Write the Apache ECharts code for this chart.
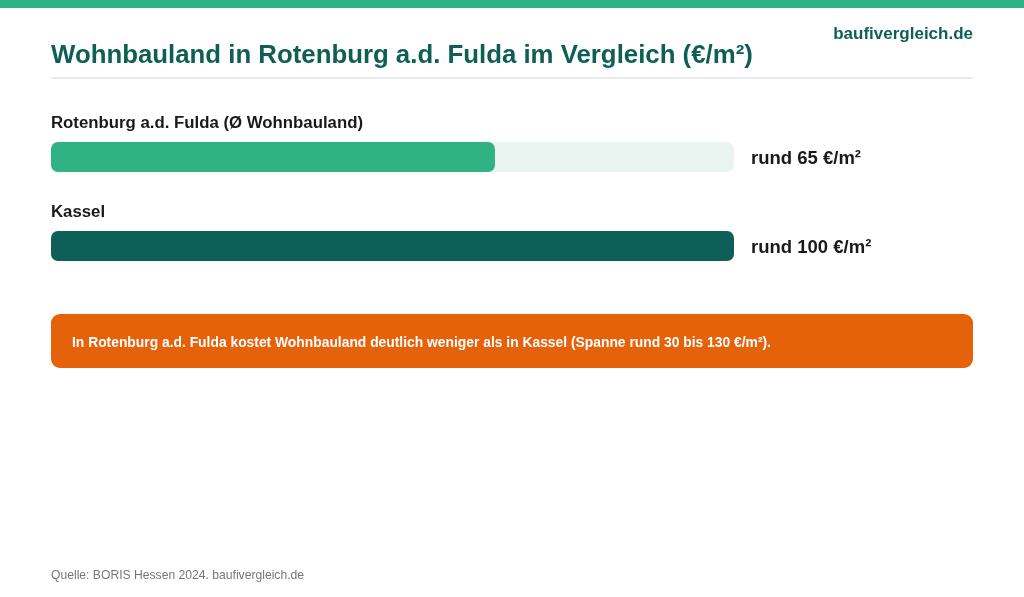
<!DOCTYPE html>
<html lang="de">
<head>
    <meta charset="UTF-8">
    <title>Wohnbauland Rotenburg a.d. Fulda</title>
    <script src="https://cdn.jsdelivr.net/npm/echarts@6/dist/echarts.min.js"></script>
    <style>
        html, body { margin: 0; padding: 0; background: #fff; }
        #main { width: 1024px; height: 597px; }
    </style>
</head>
<body>
    <div id="main"></div>
    <script type="text/javascript">
        // Daten
        var categories = ['Rotenburg a.d. Fulda (Ø Wohnbauland)', 'Kassel'];
        var values = [65, 100];
        var barColors = ['#31b284', '#0e5f58'];
        var scaleMax = 100;

        var font = 'Liberation Sans, Arial, sans-serif';
        var myChart = echarts.init(document.getElementById('main'));

        myChart.setOption({
            backgroundColor: '#ffffff',
            animation: false,
            title: [{
                text: 'Wohnbauland in Rotenburg a.d. Fulda im Vergleich (€/m²)',
                left: 51,
                top: 43,
                padding: 0,
                textStyle: { fontFamily: font, fontSize: 25.8, fontWeight: 'bold', color: '#0f5f57' }
            }, {
                text: 'baufivergleich.de',
                right: 51,
                top: 26,
                padding: 0,
                textStyle: { fontFamily: font, fontSize: 17, fontWeight: 'bold', color: '#0f5f57' }
            }, {
                text: 'Quelle: BORIS Hessen 2024. baufivergleich.de',
                left: 51,
                top: 570,
                padding: 0,
                textStyle: { fontFamily: font, fontSize: 12.15, fontWeight: 'normal', color: '#777777' }
            }],
            graphic: [
                { type: 'rect', left: 0, top: 0, shape: { width: 1024, height: 8 }, style: { fill: '#31b284' } },
                { type: 'rect', left: 51, top: 77, shape: { width: 922, height: 2 }, style: { fill: '#e8eaec' } },
                {
                    type: 'rect', left: 51, top: 314,
                    shape: { width: 922, height: 54, r: 9 },
                    style: { fill: '#e5610a' }
                },
                {
                    type: 'text', left: 72, top: 336,
                    style: {
                        text: 'In Rotenburg a.d. Fulda kostet Wohnbauland deutlich weniger als in Kassel (Spanne rund 30 bis 130 €/m²).',
                        fill: '#ffffff', font: 'bold 13.85px ' + font
                    }
                }
            ],
            grid: { left: 51, width: 683, top: 112.5, height: 178, containLabel: false },
            xAxis: { type: 'value', min: 0, max: scaleMax, show: false },
            yAxis: {
                type: 'category', data: categories, inverse: true,
                axisLine: { show: false }, axisTick: { show: false }, axisLabel: { show: false }
            },
            series: [{
                // Hintergrundspur, rechts davon der Wert
                type: 'bar',
                barWidth: 30,
                barGap: '-100%',
                silent: true,
                data: categories.map(function () { return scaleMax; }),
                itemStyle: { color: '#e9f4f0', borderRadius: 7 },
                label: {
                    show: true,
                    position: 'right',
                    distance: 17,
                    offset: [0, 2],
                    fontFamily: font, fontSize: 18.5, fontWeight: 'bold', color: '#1a1a1a',
                    formatter: function (p) { return 'rund ' + values[p.dataIndex] + ' €/m²'; }
                },
                z: 1
            }, {
                type: 'bar',
                barWidth: 30,
                data: values.map(function (v, i) {
                    return { value: v, itemStyle: { color: barColors[i] } };
                }),
                itemStyle: { borderRadius: 7 },
                label: {
                    show: true,
                    position: [0, -19],
                    verticalAlign: 'middle',
                    align: 'left',
                    fontFamily: font, fontSize: 16.8, fontWeight: 'bold', color: '#1a1a1a',
                    formatter: function (p) { return categories[p.dataIndex]; }
                },
                z: 2
            }]
        });
    </script>
</body>
</html>
